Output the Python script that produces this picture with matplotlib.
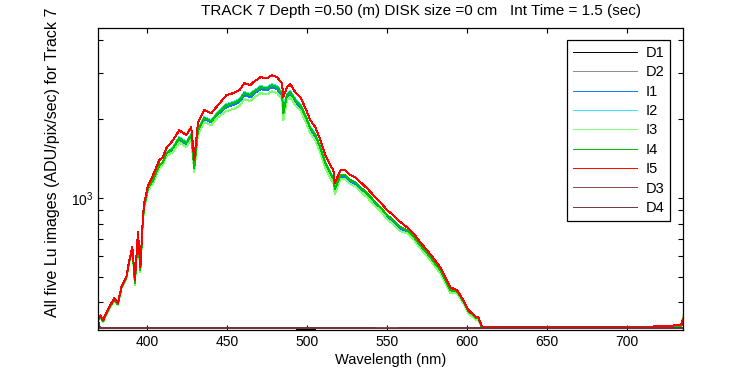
import numpy as np
import matplotlib
matplotlib.use('Agg')
import matplotlib.pyplot as plt

plt.rcParams['font.family'] = ['Liberation Sans', 'DejaVu Sans']
plt.rcParams['mathtext.fontset'] = 'custom'
plt.rcParams['mathtext.rm'] = 'Liberation Sans'
plt.rcParams['mathtext.it'] = 'Liberation Sans:italic'
plt.rcParams['mathtext.bf'] = 'Liberation Sans:bold'

# wavelengths (nm) for the light images
wl = [370.0, 370.9, 372.6, 376.6, 379.7, 382.0, 384.1, 387.2, 389.1, 391.0,
      392.6, 394.5, 396.0, 397.6, 398.4, 400.8, 403.9, 407.8, 410.1, 412.2,
      416.4, 420.3, 424.7, 427.8, 429.7, 432.0, 436.0, 440.3, 444.5, 449.7,
      453.9, 457.8, 461.0, 464.7, 466.6, 471.0, 475.1, 478.3, 481.4, 484.5,
      485.3, 487.6, 489.7, 492.8, 496.0, 499.1, 502.2, 505.3, 508.5, 511.6,
      514.7, 516.6, 517.5, 521.0, 524.1, 527.2, 530.3, 533.5, 537.6, 541.6,
      546.0, 550.1, 554.1, 558.5, 562.6, 566.6, 570.9, 575.1, 579.1, 583.4,
      586.6, 589.7, 593.9, 597.8, 601.0, 605.3, 607.2, 609.5, 612.0, 630.0,
      650.0, 670.0, 690.0, 710.0, 725.0, 730.0, 734.0, 735.0]

I5 = [348, 357, 342, 385, 415, 397, 457, 499, 580, 650,
      486, 742, 545, 846, 957, 1121, 1224, 1397, 1434, 1552,
      1665, 1818, 1740, 1866, 1397, 1950, 2167, 2111, 2265, 2473,
      2517, 2584, 2748, 2700, 2772, 2896, 2871, 2948, 2896, 2748,
      2429, 2653, 2723, 2539, 2429, 2206, 1985, 1866, 1665, 1459,
      1336, 1279, 1141, 1279, 1279, 1224, 1203, 1151, 1092, 1027,
      966, 900, 861, 810, 775, 735, 679, 633, 590, 545,
      499, 457, 445, 408, 374, 354, 351, 322, 323, 322,
      323, 322, 322, 323, 325, 327, 330, 345]

I4 = [345, 354, 339, 382, 411, 393, 453, 495, 575, 644,
      473, 723, 531, 824, 932, 1092, 1171, 1337, 1372, 1485,
      1552, 1694, 1622, 1739, 1302, 1817, 2020, 1968, 2111, 2265,
      2306, 2367, 2517, 2473, 2539, 2653, 2630, 2700, 2653, 2517,
      2111, 2473, 2538, 2366, 2264, 2056, 1850, 1739, 1552, 1360,
      1245, 1192, 1080, 1224, 1224, 1171, 1151, 1101, 1045, 983,
      924, 861, 824, 775, 755, 716, 661, 617, 575, 531,
      486, 445, 441, 404, 371, 351, 348, 321, 322, 322,
      322, 321, 322, 322, 323, 324, 326, 340]

I2 = [345, 354, 339, 382, 411, 394, 453, 494, 575, 644,
      473, 723, 531, 824, 932, 1092, 1171, 1337, 1372, 1485,
      1565, 1709, 1636, 1754, 1313, 1833, 2037, 1984, 2129, 2285,
      2326, 2388, 2539, 2495, 2561, 2676, 2653, 2724, 2676, 2539,
      2200, 2494, 2560, 2387, 2283, 2074, 1866, 1754, 1565, 1372,
      1256, 1202, 1085, 1224, 1224, 1171, 1151, 1101, 1045, 983,
      924, 861, 824, 775, 755, 716, 661, 617, 575, 531,
      486, 445, 441, 404, 371, 351, 348, 321, 321, 321,
      322, 322, 321, 322, 322, 323, 325, 335]

I1 = [345, 354, 339, 381, 411, 393, 453, 494, 575, 644,
      473, 723, 531, 824, 932, 1092, 1161, 1325, 1360, 1472,
      1538, 1680, 1608, 1724, 1291, 1802, 2002, 1951, 2093, 2226,
      2265, 2326, 2473, 2430, 2495, 2606, 2584, 2653, 2606, 2473,
      2150, 2430, 2494, 2326, 2225, 2021, 1818, 1709, 1525, 1336,
      1224, 1172, 1060, 1203, 1203, 1151, 1131, 1082, 1027, 965,
      908, 846, 809, 761, 742, 703, 650, 606, 565, 522,
      478, 437, 437, 401, 368, 348, 345, 320, 322, 321,
      321, 322, 321, 321, 322, 323, 325, 335]

I3 = [342, 351, 336, 378, 408, 390, 449, 490, 570, 639,
      465, 710, 522, 810, 916, 1073, 1141, 1302, 1337, 1447,
      1499, 1636, 1566, 1679, 1257, 1755, 1950, 1900, 2039, 2149,
      2187, 2245, 2388, 2346, 2409, 2517, 2495, 2562, 2517, 2388,
      1985, 2367, 2429, 2265, 2167, 1968, 1771, 1665, 1485, 1301,
      1192, 1141, 1040, 1182, 1182, 1131, 1112, 1063, 1009, 949,
      893, 832, 796, 748, 735, 697, 644, 601, 560, 517,
      474, 434, 433, 397, 364, 345, 342, 320, 321, 322,
      322, 321, 322, 321, 322, 323, 325, 355]

# dark images
wl_dark = [370.0, 370.8, 400.0, 450.0, 500.0, 550.0, 600.0, 650.0, 700.0, 735.0]
D1 = [330, 318.6, 318.2, 318.5, 318.1, 318.6, 318.2, 318.5, 318.3, 318.6]
D2 = [331, 318.8, 318.4, 318.2, 318.6, 318.3, 318.7, 318.2, 318.6, 318.4]
D3 = [332, 318.4, 318.6, 318.3, 318.4, 318.7, 318.3, 318.6, 318.2, 318.5]
D4 = [333, 318.5, 318.3, 318.6, 318.5, 318.2, 318.5, 318.3, 318.5, 318.4]

x_ticks = [400, 450, 500, 550, 600, 650, 700]
title = 'TRACK 7 Depth =0.50 (m) DISK size =0 cm   Int Time = 1.5 (sec)'


def main():
    fig = plt.figure(figsize=(7.5, 3.75), dpi=100)
    ax = fig.add_axes([0.131, 0.119, 0.7803, 0.8058])
    kw = dict(lw=0.7, antialiased=False)
    ax.plot(wl_dark, D1, color='k', label='D1', **kw)
    ax.plot(wl_dark, D2, color='#8c8c8c', label='D2', **kw)
    ax.plot(wl, I1, color='#0a78ff', label='I1', **kw)
    ax.plot(wl, I2, color='#30e6ff', label='I2', **kw)
    ax.plot(wl, I3, color='#7dff6e', label='I3', **kw)
    ax.plot(wl, I4, color='#00c000', label='I4', **kw)
    ax.plot(wl, I5, color='#ff0000', label='I5', **kw)
    ax.plot(wl_dark, D3, color='#8a4646', label='D3', **kw)
    ax.plot(wl_dark, D4, color='#6e3636', label='D4', **kw)

    ax.set_yscale('log')
    ax.set_xlim(369.7, 735.3)
    ax.set_ylim(313, 4456)
    ax.set_xticks(x_ticks)
    ax.tick_params(which='both', direction='in', top=True, right=True,
                   length=3.5, width=0.8, labelsize=10)
    for s in ax.spines.values():
        s.set_linewidth(0.9)
    ax.set_xlabel('Wavelength (nm)', fontsize=10.5, labelpad=3)

    fig.text(0.07, 0.1547, 'All five Lu images (ADU/pix/sec) for Track 7',
             rotation=90, ha='center', va='bottom', fontsize=11.5)
    fig.text(0.561, 0.971, title, ha='center', va='center', fontsize=11)

    leg = ax.legend(loc='upper right', bbox_to_anchor=(0.977, 0.961),
                    borderaxespad=0, fancybox=False, edgecolor='k',
                    framealpha=1, fontsize=10.5, handlelength=4.4,
                    labelspacing=0.37, borderpad=0.4, handletextpad=0.6)
    leg.get_frame().set_linewidth(0.9)

    fig.savefig('out.png', dpi=100)


main()
